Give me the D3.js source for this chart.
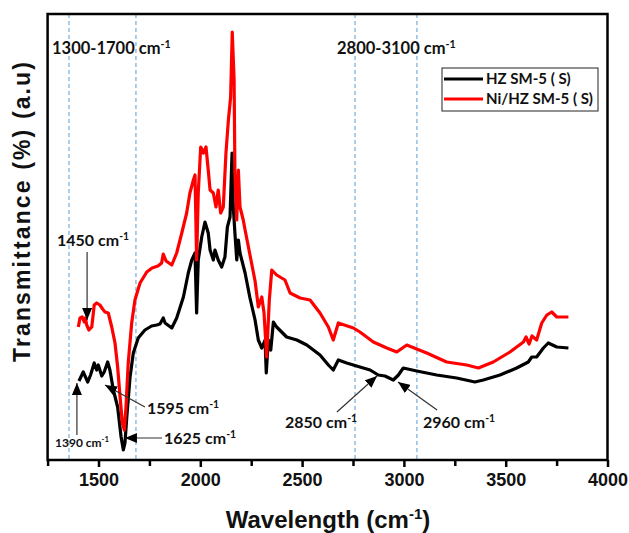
<!DOCTYPE html>
<html>
<head>
<meta charset="utf-8">
<script src="https://cdn.jsdelivr.net/npm/d3@7"></script>
<style>
  body { margin: 0; background: #fff; }
  svg { display: block; }
  .tick text { font-family: "Liberation Sans", Arial, sans-serif; font-weight: bold; font-size: 18px; fill: #111; }
  .note { font-family: Lato, "Open Sans", sans-serif; font-weight: bold; fill: #111; }
</style>
</head>
<body>
<svg id="chart" width="629" height="533"></svg>
<script>
// wavenumber (cm-1), transmittance (a.u.)
const hzsm5 = [
  [1404, 7.9], [1425, 8.8], [1447, 7.8], [1461, 8.5], [1479, 9.7], [1491, 9.0], [1499, 9.5],
  [1516, 8.4], [1528, 8.8], [1545, 9.8], [1556, 9.0], [1573, 7.0], [1594, 5.3], [1611, 2.3],
  [1622, 1.0], [1630, 1.7], [1639, 4.3], [1655, 8.3], [1671, 10.7], [1695, 12.2], [1728, 13.0],
  [1761, 13.4], [1786, 13.5], [1802, 13.6], [1818, 14.2], [1827, 13.7], [1860, 13.2], [1884, 14.2],
  [1917, 16.3], [1941, 18.7], [1958, 20.0], [1974, 20.7], [1982, 14.7], [1990, 20.0], [2007, 22.3],
  [2023, 23.8], [2039, 22.7], [2048, 21.0], [2064, 20.0], [2072, 21.0], [2088, 20.0], [2105, 19.3],
  [2121, 20.3], [2133, 23.3], [2146, 24.3], [2156, 30.7], [2162, 25.3], [2170, 22.7], [2179, 20.0],
  [2187, 22.0], [2195, 20.7], [2220, 18.7], [2244, 16.2], [2269, 14.0], [2285, 12.0], [2302, 11.2],
  [2318, 12.0], [2324, 8.7], [2334, 12.0], [2346, 11.0], [2359, 13.8], [2375, 13.3], [2424, 12.3],
  [2474, 12.0], [2523, 11.5], [2588, 10.5], [2629, 9.5], [2653, 9.0], [2678, 10.0], [2719, 9.7],
  [2784, 9.3], [2834, 9.0], [2874, 8.5], [2907, 8.4], [2948, 8.0], [2973, 8.5], [2997, 9.2],
  [3063, 8.9], [3161, 8.5], [3259, 8.2], [3349, 7.8], [3390, 8.0], [3472, 8.5], [3554, 9.2],
  [3611, 9.8], [3628, 10.3], [3652, 10.3], [3685, 11.2], [3709, 11.7], [3751, 11.3], [3808, 11.2]
];

const nihzsm5 = [
  [1401, 13.3], [1409, 14.2], [1420, 14.3], [1430, 13.8], [1436, 14.2], [1442, 13.5], [1453, 13.0],
  [1467, 13.3], [1479, 15.5], [1491, 15.7], [1507, 15.5], [1520, 15.1], [1532, 14.8], [1548, 14.7],
  [1565, 13.3], [1581, 11.7], [1594, 9.3], [1606, 6.3], [1617, 3.7], [1627, 3.0], [1635, 5.3],
  [1646, 9.7], [1663, 13.7], [1679, 16.0], [1704, 17.7], [1737, 18.8], [1763, 19.2], [1792, 19.4],
  [1810, 19.7], [1818, 20.6], [1832, 19.9], [1860, 19.5], [1884, 20.7], [1909, 22.7], [1933, 24.7],
  [1949, 26.7], [1966, 28.0], [1974, 28.5], [1982, 20.0], [1990, 26.7], [2002, 31.3], [2015, 30.7],
  [2028, 31.3], [2039, 29.0], [2048, 27.0], [2064, 26.7], [2077, 25.3], [2088, 27.0], [2100, 24.7],
  [2113, 25.3], [2126, 30.7], [2138, 34.0], [2149, 36.3], [2157, 42.8], [2166, 38.0], [2170, 28.7],
  [2179, 24.0], [2187, 29.0], [2195, 25.3], [2211, 24.0], [2220, 23.0], [2244, 20.5], [2269, 17.9],
  [2285, 15.3], [2302, 16.3], [2313, 14.7], [2326, 10.3], [2339, 16.0], [2351, 19.0], [2375, 18.5],
  [2416, 18.0], [2441, 16.7], [2490, 16.2], [2539, 16.0], [2588, 14.7], [2629, 13.3], [2653, 12.0],
  [2678, 13.7], [2752, 13.2], [2784, 12.8], [2850, 11.8], [2916, 11.2], [2965, 10.8], [3014, 11.5],
  [3112, 10.7], [3210, 9.8], [3309, 9.5], [3366, 9.2], [3439, 9.8], [3521, 10.8], [3587, 11.8],
  [3600, 12.3], [3615, 11.6], [3629, 12.4], [3652, 12.0], [3677, 13.7], [3702, 14.5], [3726, 14.8],
  [3751, 14.3], [3808, 14.3]
];

const seriesNames = ['HZ SM-5 ( S)', 'Ni/HZ SM-5 ( S)'];
const seriesColors = ['#000000', '#ff0000'];
const majorTicks = [1500, 2000, 2500, 3000, 3500, 4000];
const minorTicks = [1250, 1750, 2250, 2750, 3250, 3750];
const regionLines = [1355, 1684, 2760, 3064];

// peak labels: arrow tip and tail in data units, text anchor in px
const peakNotes = [
  {label: '1450', tip: [1444, 14.0], tail: [1444, 20.8], tx: 57, ty: 246, size: 16},
  {label: '1390', tip: [1394, 7.7], tail: [1394, 2.5], tx: 55, ty: 447, size: 12},
  {label: '1595', tip: [1532, 7.5], tail: [1728, 5.3], tx: 147, ty: 414, size: 16},
  {label: '1625', tip: [1630, 2.2], tail: [1812, 2.2], tx: 164, ty: 444, size: 16},
  {label: '2850', tip: [2868, 8.4], tail: [2671, 4.8], tx: 285, ty: 428, size: 16},
  {label: '2960', tip: [2971, 7.8], tail: [3163, 5.0], tx: 423, ty: 428, size: 16}
];

const svg = d3.select('#chart');
const box = {left: 47.6, right: 607.5, top: 14, bottom: 460};

const x = d3.scaleLinear().domain([1250, 4000]).range([box.left, box.right]);
const y = d3.scaleLinear().domain([0, 44.6]).range([box.bottom, box.top]);

svg.append('rect')
  .attr('width', 629).attr('height', 533)
  .attr('fill', '#fff');

const defs = svg.append('defs');
defs.append('marker')
  .attr('id', 'head')
  .attr('markerUnits', 'userSpaceOnUse')
  .attr('viewBox', '0 0 12 10')
  .attr('refX', 12).attr('refY', 5)
  .attr('markerWidth', 12).attr('markerHeight', 10)
  .attr('orient', 'auto')
  .append('path')
    .attr('d', 'M0,0 L12,5 L0,10 Z')
    .attr('fill', '#000');

// region guide lines
svg.selectAll('.region')
  .data(regionLines)
  .enter().append('line')
    .attr('class', 'region')
    .attr('x1', (d) => x(d)).attr('x2', (d) => x(d))
    .attr('y1', box.top).attr('y2', box.bottom)
    .attr('stroke', '#5b9bd5')
    .attr('stroke-width', 1)
    .attr('stroke-dasharray', '4,3');

// spectra
const line = d3.line()
  .x((d) => x(d[0]))
  .y((d) => y(d[1]));

[hzsm5, nihzsm5].forEach((data, i) => {
  svg.append('path')
    .datum(data)
    .attr('d', line)
    .attr('fill', 'none')
    .attr('stroke', seriesColors[i])
    .attr('stroke-width', 3.2)
    .attr('stroke-linejoin', 'round');
});

// axes
const xAxis = svg.append('g')
  .attr('transform', `translate(0,${box.bottom})`)
  .call(d3.axisBottom(x).tickValues(majorTicks).tickSize(7).tickPadding(6).tickFormat(d3.format('d')));
xAxis.select('.domain').remove();
xAxis.selectAll('.tick line').attr('stroke', '#000').attr('stroke-width', 2.5);

const xMinor = svg.append('g')
  .attr('transform', `translate(0,${box.bottom})`)
  .call(d3.axisBottom(x).tickValues(minorTicks).tickSize(6).tickFormat(''));
xMinor.select('.domain').remove();
xMinor.selectAll('.tick line').attr('stroke', '#000').attr('stroke-width', 2.5);

// frame
svg.append('rect')
  .attr('x', box.left).attr('y', box.top)
  .attr('width', box.right - box.left).attr('height', box.bottom - box.top)
  .attr('fill', 'none')
  .attr('stroke', '#000')
  .attr('stroke-width', 2.5);

function withUnit(sel, prefix, size) {
  sel.append('tspan').text(prefix + ' cm');
  sel.append('tspan')
    .attr('dy', -size * 0.38)
    .attr('font-size', size * 0.65)
    .text('-1');
}

// axis titles
const xTitle = svg.append('text')
  .attr('x', 328).attr('y', 528)
  .attr('text-anchor', 'middle')
  .attr('font-family', '"Liberation Sans", Arial, sans-serif')
  .attr('font-weight', 'bold')
  .attr('font-size', 24)
  .attr('fill', '#111');
xTitle.append('tspan').text('Wavelength (cm');
xTitle.append('tspan').attr('dy', -9).attr('font-size', 15).text('-1');
xTitle.append('tspan').attr('dy', 9).text(')');

svg.append('text')
  .attr('transform', 'translate(30,212) rotate(-90)')
  .attr('text-anchor', 'middle')
  .attr('font-family', '"Liberation Sans", Arial, sans-serif')
  .attr('font-weight', 'bold')
  .attr('font-size', 23)
  .attr('textLength', 300)
  .attr('lengthAdjust', 'spacing')
  .attr('fill', '#111')
  .text('Transmittance (%) (a.u)');

// region labels
[['1300-1700', 52], ['2800-3100', 337]].forEach(([txt, px]) => {
  svg.append('text')
    .attr('class', 'note')
    .attr('x', px).attr('y', 54)
    .attr('font-size', 16.5)
    .call(withUnit, txt, 16.5);
});

// peak annotations
peakNotes.forEach((n) => {
  svg.append('line')
    .attr('x1', x(n.tail[0])).attr('y1', y(n.tail[1]))
    .attr('x2', x(n.tip[0])).attr('y2', y(n.tip[1]))
    .attr('stroke', '#333')
    .attr('stroke-width', 1.2)
    .attr('marker-end', 'url(#head)');
  svg.append('text')
    .attr('class', 'note')
    .attr('x', n.tx).attr('y', n.ty)
    .attr('font-size', n.size)
    .attr('font-weight', n.size < 14 ? 'normal' : 'bold')
    .call(withUnit, n.label, n.size);
});

// legend
const legend = svg.append('g').attr('transform', 'translate(442,68)');
legend.append('rect')
  .attr('width', 156).attr('height', 43)
  .attr('fill', '#fff')
  .attr('stroke', '#222')
  .attr('stroke-width', 1);
const items = legend.selectAll('.item')
  .data(seriesNames)
  .enter().append('g')
    .attr('transform', (d, i) => `translate(0,${11 + i * 20})`);
items.append('line')
  .attr('x1', 2).attr('x2', 41)
  .attr('stroke', (d, i) => seriesColors[i])
  .attr('stroke-width', 3);
items.append('text')
  .attr('class', 'note')
  .attr('x', 44).attr('y', 5)
  .attr('font-size', 15)
  .text((d) => d);
</script>
</body>
</html>
